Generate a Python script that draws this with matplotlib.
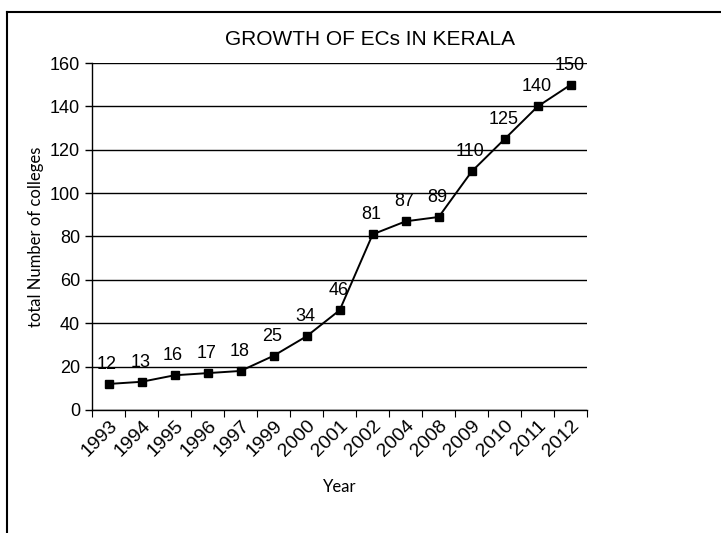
import matplotlib
matplotlib.use("Agg")
import matplotlib.pyplot as plt
from matplotlib.lines import Line2D

years = ["1993", "1994", "1995", "1996", "1997", "1999", "2000", "2001",
         "2002", "2004", "2008", "2009", "2010", "2011", "2012"]
colleges = [12, 13, 16, 17, 18, 25, 34, 46, 81, 87, 89, 110, 125, 140, 150]
yticks = [0, 20, 40, 60, 80, 100, 120, 140, 160]

plt.rcParams['font.family'] = ['Liberation Sans', 'DejaVu Sans']

fig = plt.figure(figsize=(7.21, 5.33), dpi=100)
ax = fig.add_axes([0.1276, 0.2308, 0.687, 0.651])

x = list(range(len(years)))
ax.plot(x, colleges, color='black', lw=1.4, marker='s', ms=6,
        markerfacecolor='black', markeredgecolor='black', zorder=3)
for xi, v in zip(x, colleges):
    ax.annotate(str(v), (xi, v), xytext=(-1, 8), textcoords='offset points',
                ha='center', va='bottom', fontsize=13)

ax.set_xlim(-0.5, len(years) - 0.5)
ax.set_ylim(0, 160)
ax.set_yticks(yticks)
ax.tick_params(axis='y', labelsize=13, length=5, direction='out', width=1)
ax.yaxis.grid(True, color='black', lw=1)
ax.set_axisbelow(True)

# category ticks at boundaries, labels at centres
ax.set_xticks([i - 0.5 for i in range(len(years) + 1)])
ax.set_xticklabels([])
ax.set_xticks(x, minor=True)
ax.set_xticklabels(years, minor=True, rotation=45, ha='right',
                   rotation_mode='anchor', fontsize=14)
ax.tick_params(axis='x', which='major', length=5, direction='out')
ax.tick_params(axis='x', which='minor', length=0, pad=5)

for s in ['top', 'right']:
    ax.spines[s].set_visible(False)
ax.spines['left'].set_linewidth(1)
ax.spines['bottom'].set_linewidth(1)

ax.set_ylabel('total Number of colleges', family=['Lato', 'DejaVu Sans'],
              fontsize=12, labelpad=4)
ax.set_xlabel('Year', family=['Lato', 'DejaVu Sans'], fontsize=12, labelpad=14)

fig.text(0.513, 0.925, 'GROWTH OF ECs IN KERALA', ha='center', va='center',
         fontsize=15)

# scanned page frame
fig.add_artist(Line2D([0.0097, 0.0097], [0.0, 0.978], color='black', lw=1.5,
                      transform=fig.transFigure))
fig.add_artist(Line2D([0.0097, 1.0], [0.978, 0.978], color='black', lw=1.5,
                      transform=fig.transFigure))

fig.savefig('out.png', dpi=100)
